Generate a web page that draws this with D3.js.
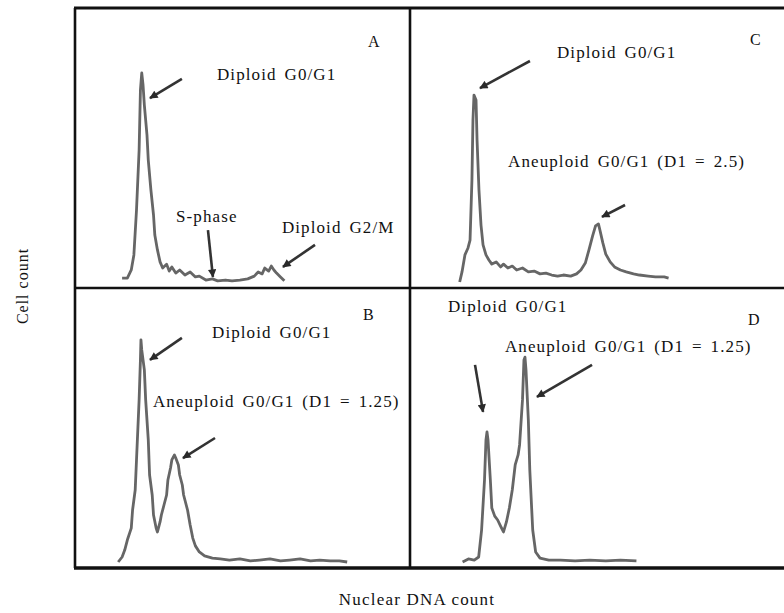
<!DOCTYPE html>
<html>
<head>
<meta charset="utf-8">
<script src="https://cdn.jsdelivr.net/npm/d3@7"></script>
<style>
  html, body { margin: 0; padding: 0; background: #fff; }
  svg { display: block; }
</style>
</head>
<body>
<svg id="chart" width="784" height="613"></svg>
<script>
// ---------------- DATA (channel = DNA content, count = relative cell count) ----------------
const panelNames = ["A", "B", "C", "D"];

// Panel A: diploid tumour (G0/G1, S-phase, G2/M)
const chA  = [36,40,43,45,47,49,50,51,52,53,55,56,58,60,61,63,65,67,70,72,74,77,80,84,88,92,95,100,105,109,115,120,126,132,137,140,143,145,148,150,152,154,157,160];
const cntA = [3.2,3.2,6.1,11.5,27.6,49.1,70.6,76.7,72.4,65.2,54.5,45.5,34.8,25.8,18.6,13.3,9.0,6.8,8.2,5.7,7.2,5.0,6.1,4.3,5.4,3.6,3.9,2.5,2.9,2.2,2.5,2.2,2.5,2.9,3.9,5.4,4.7,6.8,5.7,7.5,6.1,5.0,3.6,2.2];

// Panel B: diploid + aneuploid (DI = 1.25)
const chB  = [33,36,38,40,43,44,46,47,49,50,50.4,51,53,54,56,57,59,60,62,63,65,66,68,70,71,73,74,76,77,79,80,82,83,86,88,90,92,95,99,105,111,118,126,134,141,149,157,164,172,180,187,195,202,208];
const cntB = [1.8,3.6,6.1,9.7,14.0,20.5,27.7,38.5,60.1,74.5,81.7,78.1,70.9,60.1,45.7,33.1,25.9,18.7,14.0,12.6,16.2,18.7,22.3,25.9,31.3,35.6,38.5,40.3,39.2,36.7,33.1,29.5,25.9,20.5,15.1,10.4,7.6,5.4,4.0,3.2,2.9,2.5,2.9,2.2,2.5,2.9,2.2,2.5,2.9,2.2,2.5,2.2,2.2,1.8];

// Panel C: diploid + aneuploid (DI = 2.5)
const chC  = [34,35.6,37.6,39.7,41.1,42.4,43.1,43.8,45.2,45.9,47.2,48.6,50,52,54,56,59,62,64,67,70,73,77,81,85,89,93,97,101,105,110,114,117,120,122.5,125,127,129,130,132,134,137,140,144,148,153,157,163,168,174,177];
const cntC = [1.8,5.4,11.5,14.0,16.8,38.4,59.9,68.8,67.0,52.7,34.8,22.2,15.1,11.5,9.7,8.2,9.0,7.2,8.2,6.8,7.5,6.1,6.8,5.4,5.7,4.7,5.0,4.3,3.9,4.3,3.9,4.7,6.1,8.6,13.3,18.3,21.9,22.6,20.4,15.8,11.8,9.0,7.2,6.1,5.4,4.7,4.3,3.9,3.6,3.6,3.2];

// Panel D: diploid + aneuploid (DI = 1.25), aneuploid dominant
const chD  = [36,40,44,47,49,51,52,52.7,53.4,55,56,58,60,62,64,66,68,70,72,74,75,77,78,78.7,79.4,81,82,84,86,89,95,103,113,123,134,144,155];
const cntD = [1.8,2.9,2.5,3.6,13.3,31.3,45.7,48.6,45.7,31.3,21.2,18.3,16.9,14.7,12.6,16.2,21.2,27.7,36.7,40.3,43.9,60.1,74.5,75.5,70.9,52.9,34.9,13.3,5.4,3.2,2.5,2.5,2.2,2.5,2.2,2.5,2.2];

// Annotation texts
const labelTexts = {
  A: ["A", "Diploid G0/G1", "S-phase", "Diploid G2/M"],
  B: ["B", "Diploid G0/G1", "Aneuploid G0/G1 (D1 = 1.25)"],
  C: ["C", "Diploid G0/G1", "Aneuploid G0/G1 (D1 = 2.5)"],
  D: ["D", "Diploid G0/G1", "Aneuploid G0/G1 (D1 = 1.25)"]
};
const xTitle = "Nuclear DNA count";
const yTitle = "Cell count";

// ---------------- LAYOUT ----------------
const FONT = "'Liberation Serif', 'Times New Roman', Times, 'DejaVu Serif', serif";
const svg = d3.select("#chart");
const W = 784, H = 613;
const L = 75, M = 410, R = 784, T = 8, MID = 288, B = 568;

const xLeft  = d3.scaleLinear().domain([0, 256]).range([L, M]);
const xRight = d3.scaleLinear().domain([0, 256]).range([M, R]);
const yTop   = d3.scaleLinear().domain([0, 100]).range([MID - 1, T]);
const yBot   = d3.scaleLinear().domain([0, 100]).range([B - 1, MID + 1]);

const panelCfg = {
  A: { x: xLeft,  y: yTop, ch: chA, cnt: cntA },
  B: { x: xLeft,  y: yBot, ch: chB, cnt: cntB },
  C: { x: xRight, y: yTop, ch: chC, cnt: cntC },
  D: { x: xRight, y: yBot, ch: chD, cnt: cntD }
};

// label anchors (channel, count) per panel, matching labelTexts order
const labelPos = {
  A: [[223.9, 86.0], [108.5, 74.2], [77.2, 23.3], [158.1, 19.4]],
  B: [[220.0, 88.8], [104.7, 82.4], [59.6, 57.6]],
  C: [[232.7, 86.7], [100.6, 82.1], [67.1, 43.0]],
  D: [[231.4, 87.1], [26.0, 91.7], [65.0, 77.3]]
};
// arrows: [fromCh, fromCnt, toCh, toCnt]
const arrowPos = {
  A: [[81.7, 74.6, 57.3, 67.7], [101.6, 20.4, 105.4, 3.6], [183.4, 15.1, 158.9, 7.2]],
  B: [[81.7, 82.4, 57.3, 74.5], [107.0, 46.4, 82.5, 39.2]],
  C: [[82.1, 81.0, 47.9, 71.3], [147.2, 29.4, 131.4, 25.1]],
  D: [[44.5, 72.7, 50.0, 55.8], [124.6, 72.7, 86.9, 61.2]]
};

svg.append("rect").attr("width", W).attr("height", H).attr("fill", "#fff");

const defs = svg.append("defs");
defs.append("marker")
  .attr("id", "ah").attr("viewBox", "0 0 10 10")
  .attr("refX", 9).attr("refY", 5)
  .attr("markerWidth", 3.6).attr("markerHeight", 3.2)
  .attr("orient", "auto")
  .append("path").attr("d", "M0,0 L10,5 L0,10 Z").attr("fill", "#2a2a2a");

// curves
panelNames.forEach(p => {
  const c = panelCfg[p];
  const pts = c.ch.map((v, i) => [v, c.cnt[i]]);
  const line = d3.line().x(d => c.x(d[0])).y(d => c.y(d[1]));
  svg.append("path").datum(pts)
    .attr("d", line)
    .attr("fill", "none")
    .attr("stroke", "#666")
    .attr("stroke-width", 2.8)
    .attr("stroke-linejoin", "round");
});

// arrows
panelNames.forEach(p => {
  const c = panelCfg[p];
  arrowPos[p].forEach(a => {
    svg.append("line")
      .attr("x1", c.x(a[0])).attr("y1", c.y(a[1]))
      .attr("x2", c.x(a[2])).attr("y2", c.y(a[3]))
      .attr("stroke", "#333").attr("stroke-width", 2.6)
      .attr("marker-end", "url(#ah)");
  });
});

// labels
panelNames.forEach(p => {
  const c = panelCfg[p];
  labelTexts[p].forEach((t, i) => {
    const pos = labelPos[p][i];
    svg.append("text")
      .attr("x", c.x(pos[0])).attr("y", c.y(pos[1]))
      .attr("font-family", FONT)
      .attr("fill", "#111")
      .attr("font-size", i === 0 ? 16 : 17)
      .attr("letter-spacing", i === 0 ? 0 : 1.1)
      .attr("word-spacing", i === 0 ? 0 : 2.6)
      .text(t);
  });
});

// frame lines
const frame = svg.append("g").attr("stroke", "#111");
frame.append("line").attr("x1", L - 1).attr("x2", R).attr("y1", T).attr("y2", T).attr("stroke-width", 3);
frame.append("line").attr("x1", L - 1).attr("x2", R).attr("y1", B).attr("y2", B).attr("stroke-width", 3.5);
frame.append("line").attr("x1", L).attr("x2", R).attr("y1", MID).attr("y2", MID).attr("stroke-width", 2.6);
frame.append("line").attr("x1", L).attr("x2", L).attr("y1", T).attr("y2", B).attr("stroke-width", 2.6);
frame.append("line").attr("x1", M).attr("x2", M).attr("y1", T).attr("y2", B).attr("stroke-width", 2.6);

// axis titles
svg.append("text")
  .attr("x", 417).attr("y", 605)
  .attr("text-anchor", "middle")
  .attr("font-family", FONT).attr("fill", "#111")
  .attr("font-size", 17).attr("letter-spacing", 1.2)
  .text(xTitle);
svg.append("text")
  .attr("transform", "translate(28,286) rotate(-90)")
  .attr("text-anchor", "middle")
  .attr("font-family", FONT).attr("fill", "#111")
  .attr("font-size", 16).attr("letter-spacing", 1)
  .text(yTitle);
</script>
</body>
</html>
